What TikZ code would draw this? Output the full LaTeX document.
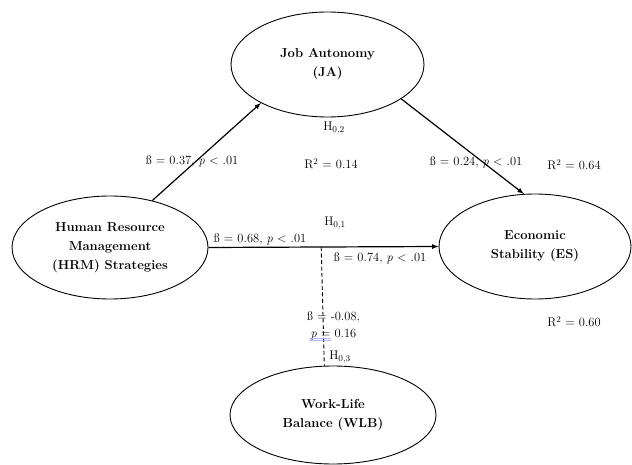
\documentclass[tikz,border=0pt]{standalone}
\usetikzlibrary{shapes.geometric, calc}
\begin{document}
\begin{tikzpicture}[x=1pt, y=-1pt, >=latex,
    var/.style={ellipse, draw, line width=0.9pt, inner sep=0pt, align=center,
      font=\fontsize{13}{19}\selectfont\bfseries},
    lab/.style={inner sep=1pt, align=center, font=\fontsize{12.5}{17}\selectfont}]
  \useasboundingbox (0,0) rectangle (632,465);

  % 楕円を置く
  \node[var, minimum width=196pt, minimum height=103pt] (HRM) at (110,247.5) {Human Resource\\Management\\(HRM) Strategies};
  \node[var, minimum width=193pt, minimum height=105pt] (JA) at (327.5,64.5) {Job Autonomy\\(JA)};
  \node[var, minimum width=192pt, minimum height=105pt] (ES) at (535,246.5) {Economic\\Stability (ES)};
  \node[var, minimum width=206pt, minimum height=98pt] (WLB) at (333,415) {Work-Life\\Balance (WLB)};

  % 線を引く
  \coordinate (M) at ($(HRM.east)!0.49!(ES.west)$);
  \draw[->, line width=1.2pt] (HRM.48) -- (JA.210);
  \draw[->, line width=1.2pt] (JA.335) -- (ES.102);
  \draw[->, line width=1.2pt] (HRM.east) -- (ES.west);
  \draw[line width=0.9pt, dash pattern=on 4pt off 2.5pt] (M) -- (WLB.100);

  % 値を入れる
  \node[lab] (b37) at (192,161) {ß = 0.37, \textit{p} < .01};
  \node[lab] (b24) at (476,162) {ß = 0.24, \textit{p} < .01};
  \node[lab] (r64) at (574,165) {R\textsuperscript{2} = 0.64};
  \node[lab] (h02) at (334,128) {H$_{0,2}$};
  \node[lab] (r14) at (331,164) {R\textsuperscript{2} = 0.14};
  \node[lab] (h01) at (335,223) {H$_{0,1}$};
  \node[lab] (b68) at (260,239) {ß = 0.68, \textit{p} < .01};
  \node[lab] (b74) at (380,258) {ß = 0.74, \textit{p} < .01};
  \node[lab] (b08) at (333.5,325.5) {ß = -0.08,\\\textit{p} = 0.16};
  \node[lab] (h03) at (340,357) {H$_{0,3}$};
  \node[lab] (r60) at (574,322) {R\textsuperscript{2} = 0.60};

  % 下線
  \draw[blue!30, line width=0.6pt] (309,338) -- (331,338) (309,340.5) -- (331,340.5);
\end{tikzpicture}
\end{document}
